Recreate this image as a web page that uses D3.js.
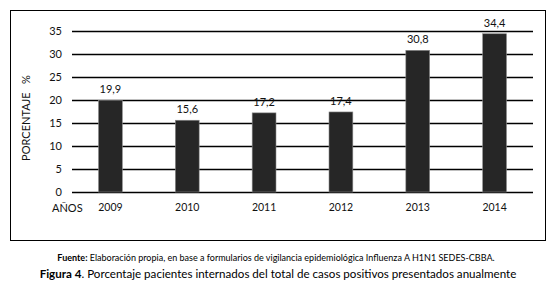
<!DOCTYPE html>
<html>
<head>
<meta charset="utf-8">
<script src="https://cdn.jsdelivr.net/npm/d3@7"></script>
<style>
  body { margin: 0; background: #fff; }
  svg { display: block; font-family: Lato, "Open Sans", sans-serif; }
</style>
</head>
<body>
<div id="chart"></div>
<script>
// Data
const years = ["2009", "2010", "2011", "2012", "2013", "2014"];
const percents = [19.9, 15.6, 17.2, 17.4, 30.8, 34.4];
const yTicks = [0, 5, 10, 15, 20, 25, 30, 35];

const width = 560, height = 288;
const svg = d3.select("#chart").append("svg")
    .attr("width", width)
    .attr("height", height);

// outer frame
svg.append("rect")
    .attr("x", 10.5).attr("y", 10.5)
    .attr("width", 535).attr("height", 230)
    .attr("fill", "none")
    .attr("stroke", "#000")
    .attr("stroke-width", 1);

// scales
const x = d3.scaleBand().domain(years).range([72, 533]).paddingInner(0.69).paddingOuter(0.345);
const y = d3.scaleLinear().domain([0, 35]).range([192, 31]);

// gridlines
svg.selectAll(".grid")
    .data(yTicks)
    .enter().append("line")
    .attr("class", "grid")
    .attr("x1", 72).attr("x2", 533)
    .attr("y1", d => Math.round(y(d)) + 0.5)
    .attr("y2", d => Math.round(y(d)) + 0.5)
    .attr("stroke", "#000")
    .attr("stroke-width", 1.3);

// y tick labels
svg.selectAll(".ytick")
    .data(yTicks)
    .enter().append("text")
    .attr("class", "ytick")
    .attr("x", 62)
    .attr("y", d => y(d))
    .attr("dy", "0.35em")
    .attr("text-anchor", "end")
    .attr("font-size", 11)
    .attr("fill", "#111")
    .text(d => d);

// bars
const data = years.map((yr, i) => ({ year: yr, value: percents[i] }));
svg.selectAll(".bar")
    .data(data)
    .enter().append("rect")
    .attr("class", "bar")
    .attr("x", d => x(d.year))
    .attr("y", d => y(d.value))
    .attr("width", x.bandwidth())
    .attr("height", d => y(0) - y(d.value))
    .attr("fill", "#262626")
    .attr("stroke", "#8a8a8a")
    .attr("stroke-width", 0.6);

// value labels
svg.selectAll(".val")
    .data(data)
    .enter().append("text")
    .attr("class", "val")
    .attr("x", d => x(d.year) + x.bandwidth() / 2)
    .attr("y", d => y(d.value) - 7)
    .attr("text-anchor", "middle")
    .attr("font-size", 11)
    .attr("fill", "#111")
    .text(d => d3.format(".1f")(d.value).replace(".", ","));

// x labels
svg.selectAll(".xtick")
    .data(years)
    .enter().append("text")
    .attr("class", "xtick")
    .attr("x", d => x(d) + x.bandwidth() / 2)
    .attr("y", 211)
    .attr("text-anchor", "middle")
    .attr("font-size", 10.5)
    .attr("fill", "#111")
    .text(d => d);

svg.append("text")
    .attr("x", 52).attr("y", 212)
    .attr("font-size", 11)
    .attr("fill", "#111")
    .text("AÑOS");

// y axis title
svg.append("text")
    .attr("transform", "translate(30,118) rotate(-90)")
    .attr("text-anchor", "middle")
    .attr("font-size", 11)
    .attr("fill", "#111")
    .attr("xml:space", "preserve")
    .text("PORCENTAJE   %");

// source note
const src = svg.append("text")
    .attr("x", 276).attr("y", 261)
    .attr("text-anchor", "middle")
    .attr("font-size", 9)
    .attr("fill", "#000");
src.append("tspan").attr("font-weight", "bold").text("Fuente:");
src.append("tspan").text(" Elaboración propia, en base a formularios de vigilancia epidemiológica Influenza A H1N1 SEDES-CBBA.");

// figure caption
const cap = svg.append("text")
    .attr("x", 278).attr("y", 278)
    .attr("text-anchor", "middle")
    .attr("font-size", 11.6)
    .attr("fill", "#000");
cap.append("tspan").attr("font-weight", "bold").text("Figura 4");
cap.append("tspan").text(". Porcentaje pacientes internados del total de casos positivos presentados anualmente");
</script>
</body>
</html>
